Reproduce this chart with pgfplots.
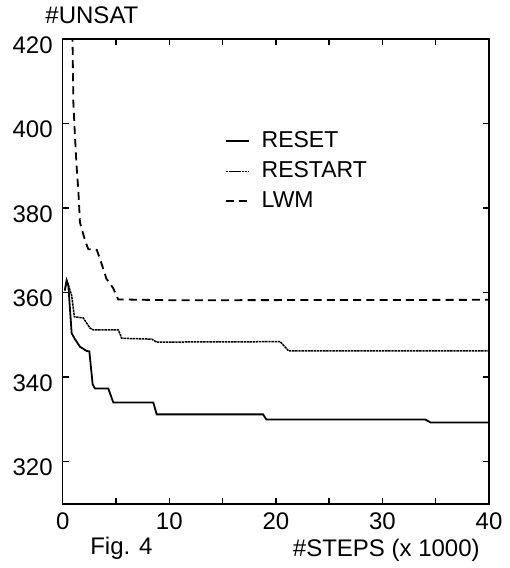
\documentclass[border=0pt]{standalone}
\usepackage{fontspec}
\setmainfont{Liberation Sans}
\usepackage{pgfplots}
\pgfplotsset{compat=1.18}
\newcommand{\ff}{\fontsize{12}{14}\selectfont}
\newcommand{\fl}{\fontsize{11.5}{13}\selectfont}
\begin{document}
\begin{tikzpicture}
\begin{axis}[name=ax,
  scale only axis, width=213.2pt, height=232.5pt,
  xmin=0, xmax=40, ymin=310, ymax=420,
  xtick={0,10,20,30,40}, minor xtick={5,15,25,35},
  ytick={320,340,360,380,400,420},
  tick align=inside, major tick length=3pt, minor tick length=3pt,
  axis line style={line width=0.8pt},
  tick style={line width=0.7pt, black},
  /pgf/number format/assume math mode=true,
  tick label style={font=\ff},
  yticklabel style={yshift=-3pt, xshift=-1.5pt},
  xticklabel style={yshift=-1pt},
  clip=true,
  legend cell align=left,
  legend style={draw=none, fill=none, font=\fl, at={(0.38,0.81)}, anchor=north west,
    row sep=1.5pt, inner sep=0pt,
    /tikz/every odd column/.append style={column sep=4pt}},
  legend image code/.code={\draw[#1] (0cm,0cm) -- (0.4cm,0cm);},
]
\addplot[black, line width=0.9pt] coordinates {
(0.2,360.5) (0.37,362.9) (0.53,361.7) (0.84,350.4) (1.15,349.0) (1.62,347.2)
(2.25,346.2) (2.5,346.1) (2.81,338.3) (3.03,337.3) (4.28,337.3) (4.75,334.0)
(8.5,334.0) (8.82,331.2) (18.8,331.2) (19.1,330.0) (34.0,330.0) (34.5,329.3) (40,329.3)};
\addlegendentry{RESET}
\addplot[black, line width=0.75pt, dash pattern=on 1.2pt off 0.35pt] coordinates {
(0.2,360.5) (0.37,362.9) (0.84,359.4) (1.09,354.3) (1.93,354.0) (2.56,351.6)
(2.87,351.2) (5.22,351.2) (5.53,349.2) (8.35,349.0) (8.82,348.3) (20.4,348.4)
(21.2,346.2) (40,346.2)};
\addlegendentry{RESTART}
\addplot[black, line width=0.9pt, dash pattern=on 4pt off 2.6pt] coordinates {
(0.88,440) (0.92,420) (1.0,405) (1.15,397) (1.3,390) (1.47,384) (1.62,376.6)
(2.1,372.3) (2.4,370.3) (3.2,370.1) (3.5,368) (4.1,363.3) (4.75,361) (5.2,358.4)
(10,358.2) (40,358.3)};
\addlegendentry{LWM}
\end{axis}
\node[anchor=west, font=\ff, inner sep=0pt] at ([xshift=-8.8pt,yshift=12pt]ax.north west) {\#UNSAT};
\node[anchor=west, font=\ff, inner sep=0pt] at ([xshift=13.6pt,yshift=-22pt]ax.south west) {Fig. 4};
\node[anchor=east, font=\ff, inner sep=0pt] at ([xshift=-4.5pt,yshift=-23pt]ax.south east) {\#STEPS (x 1000)};
\path ([xshift=-31.35pt,yshift=-32pt]ax.south west) rectangle ([xshift=9pt,yshift=19.5pt]ax.north east);
\end{tikzpicture}
\end{document}
